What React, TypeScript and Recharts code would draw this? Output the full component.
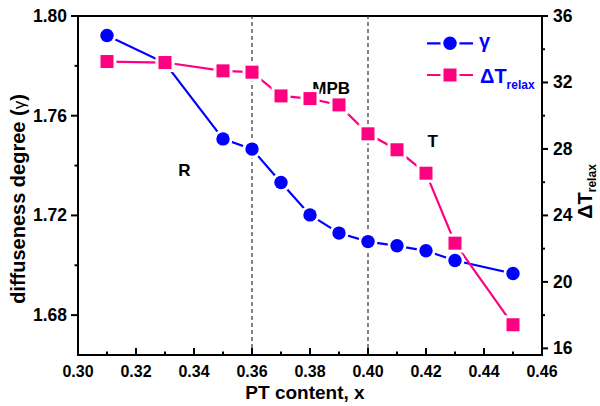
import React from 'react';
import { ComposedChart, Line, XAxis, YAxis, ReferenceLine, ReferenceDot } from 'recharts';

// ---- data ----
const xValues = [0.31, 0.33, 0.35, 0.36, 0.37, 0.38, 0.39, 0.40, 0.41, 0.42, 0.43, 0.45];
const gammaValues = [1.7922, 1.7811, 1.7507, 1.7466, 1.7332, 1.7202, 1.7129, 1.7095, 1.7078, 1.7058, 1.7019, 1.6967];
const dTRelaxValues = [33.26, 33.2, 32.7, 32.62, 31.19, 31.03, 30.65, 28.91, 27.95, 26.54, 22.33, 17.42];

const xMajorTicks = [0.30, 0.32, 0.34, 0.36, 0.38, 0.40, 0.42, 0.44, 0.46];
const xMinorTicks = [0.31, 0.33, 0.35, 0.37, 0.39, 0.41, 0.43, 0.45];
const leftMajorTicks = [1.68, 1.72, 1.76, 1.80];
const leftMinorTicks = [1.70, 1.74, 1.78];
const rightMajorTicks = [16, 20, 24, 28, 32, 36];
const rightMinorTicks = [18, 22, 26, 30, 34];

const phaseBoundaries = [0.36, 0.40];
const phaseLabels = [
  { text: 'R', x: 0.3367, y: 1.7383 },
  { text: 'MPB', x: 0.3873, y: 1.7713 },
  { text: 'T', x: 0.4223, y: 1.7499 },
];

const chartData = xValues.map((x, i) => ({ x, gamma: gammaValues[i], dT: dTRelaxValues[i] }));

const FONT = '"Liberation Sans", Arial, Helvetica, sans-serif';
const BLUE = '#0000FF';
const PINK = '#FF0080';

const isMajor = (v: number, majors: number[]) => majors.some((m) => Math.abs(m - v) < 1e-9);
const sortNum = (a: number[]) => [...a].sort((p, q) => p - q);

const XTick = (props: any) => {
  const { x, y, payload } = props;
  const v = payload.value as number;
  const major = isMajor(v, xMajorTicks);
  return (
    <g>
      <line x1={x} x2={x} y1={y} y2={y - (major ? 7 : 3.5)} stroke="#000" strokeWidth={2} />
      {major && (
        <text x={x} y={y + 22} textAnchor="middle" fontSize={16} fontWeight="bold" fontFamily={FONT} fill="#000">
          {v.toFixed(2)}
        </text>
      )}
    </g>
  );
};

const LeftTick = (props: any) => {
  const { x, y, payload } = props;
  const v = payload.value as number;
  const major = isMajor(v, leftMajorTicks);
  return (
    <g>
      <line x1={x - (major ? 7 : 3.5)} x2={x} y1={y} y2={y} stroke="#000" strokeWidth={2} />
      {major && (
        <text x={x - 11} y={y + 6} textAnchor="end" fontSize={17.5} fontWeight="bold" fontFamily={FONT} fill="#000">
          {v.toFixed(2)}
        </text>
      )}
    </g>
  );
};

const RightTick = (props: any) => {
  const { x, y, payload } = props;
  const v = payload.value as number;
  const major = isMajor(v, rightMajorTicks);
  return (
    <g>
      <line x1={x} x2={x + (major ? 6 : 3)} y1={y} y2={y} stroke="#000" strokeWidth={2} />
      {major && (
        <text x={x + 11} y={y + 6} textAnchor="start" fontSize={17.5} fontWeight="bold" fontFamily={FONT} fill="#000">
          {String(v)}
        </text>
      )}
    </g>
  );
};

const CircleDot = (props: any) => {
  const { cx, cy, index } = props;
  if (cx == null || cy == null) return <g key={`c-${index}`} />;
  return (
    <g key={`c-${index}`}>
      <circle cx={cx} cy={cy} r={9.5} fill="#fff" />
      <circle cx={cx} cy={cy} r={6.7} fill={BLUE} />
    </g>
  );
};

const SquareDot = (props: any) => {
  const { cx, cy, index } = props;
  if (cx == null || cy == null) return <g key={`s-${index}`} />;
  return (
    <g key={`s-${index}`}>
      <rect x={cx - 9.5} y={cy - 9.5} width={19} height={19} fill="#fff" />
      <rect x={cx - 6.5} y={cy - 6.5} width={13} height={13} fill={PINK} />
    </g>
  );
};

const PhaseLabel = (props: any) => {
  const vb = props.viewBox || {};
  const cx = (vb.x ?? 0) + (vb.width ?? 0) / 2;
  const cy = (vb.y ?? 0) + (vb.height ?? 0) / 2;
  return (
    <text x={cx} y={cy + 6} textAnchor="middle" fontSize={17} fontWeight="bold" fontFamily={FONT} fill="#000">
      {props.value}
    </text>
  );
};

const XLabel = (props: any) => {
  const vb = props.viewBox;
  return (
    <text x={vb.x + vb.width / 2 - 5} y={vb.y + 44} textAnchor="middle" fontSize={19} fontWeight="bold" fontFamily={FONT} fill="#000">
      PT content, x
    </text>
  );
};

const LeftLabel = (props: any) => {
  const vb = props.viewBox;
  const cx = vb.x + 25;
  const cy = vb.y + vb.height / 2 + 13.5;
  return (
    <text x={cx} y={cy} transform={`rotate(-90, ${cx}, ${cy})`} textAnchor="middle" fontSize={20} fontWeight="bold" fontFamily={FONT} fill="#000">
      diffuseness degree (<tspan fontWeight="normal" fontSize={17}>γ</tspan>)
    </text>
  );
};

const RightLabel = (props: any) => {
  const vb = props.viewBox;
  const cx = vb.x + 50;
  const cy = vb.y + vb.height / 2 + 6;
  return (
    <text x={cx} y={cy} transform={`rotate(-90, ${cx}, ${cy})`} textAnchor="middle" fontSize={20} fontWeight="bold" fontFamily={FONT} fill="#000">
      ΔT<tspan fontSize={12} dy={4}>relax</tspan>
    </text>
  );
};

const Legend = () => (
  <svg width={600} height={406} style={{ position: 'absolute', left: 0, top: 0, pointerEvents: 'none' }}>
    <line x1={427} x2={473} y1={43.3} y2={43.3} stroke={BLUE} strokeWidth={2.2} />
    <circle cx={450} cy={43.3} r={9.5} fill="#fff" />
    <circle cx={450} cy={43.3} r={6.7} fill={BLUE} />
    <text x={479} y={48} fontSize={20} fontWeight="bold" fontFamily={FONT} fill={BLUE}>γ</text>
    <line x1={427} x2={473} y1={75} y2={75} stroke={PINK} strokeWidth={2.2} />
    <rect x={440.5} y={65.5} width={19} height={19} fill="#fff" />
    <rect x={443.5} y={68.5} width={13} height={13} fill={PINK} />
    <text x={480} y={82.7} fontSize={20} fontWeight="bold" fontFamily={FONT} fill={BLUE}>
      ΔT<tspan fontSize={12} dy={6}>relax</tspan>
    </text>
  </svg>
);

export default function App() {
  return (
    <div style={{ position: 'absolute', left: 0, top: 0, width: 600, height: 406, background: '#fff' }}>
      <ComposedChart width={600} height={406} data={chartData} margin={{ top: 16, right: 0, bottom: 0, left: 0 }}>
        <XAxis
          dataKey="x"
          type="number"
          domain={[0.30, 0.46]}
          ticks={sortNum([...xMajorTicks, ...xMinorTicks])}
          interval={0}
          tick={<XTick />}
          tickLine={false}
          tickSize={0}
          tickMargin={0}
          height={51}
          axisLine={{ stroke: '#000', strokeWidth: 2, strokeLinecap: 'square' }}
          allowDataOverflow
          label={<XLabel />}
        />
        <YAxis
          yAxisId="left"
          type="number"
          domain={[1.664, 1.80]}
          ticks={sortNum([...leftMajorTicks, ...leftMinorTicks])}
          interval={0}
          tick={<LeftTick />}
          tickLine={false}
          tickSize={0}
          tickMargin={0}
          width={78}
          axisLine={{ stroke: '#000', strokeWidth: 2, strokeLinecap: 'square' }}
          allowDataOverflow
          label={<LeftLabel />}
        />
        <YAxis
          yAxisId="right"
          orientation="right"
          type="number"
          domain={[15.6, 36]}
          ticks={sortNum([...rightMajorTicks, ...rightMinorTicks])}
          interval={0}
          tick={<RightTick />}
          tickLine={false}
          tickSize={0}
          tickMargin={0}
          width={58}
          axisLine={{ stroke: '#000', strokeWidth: 2, strokeLinecap: 'square' }}
          allowDataOverflow
          label={<RightLabel />}
        />
        <ReferenceLine yAxisId="left" y={1.80} stroke="#000" strokeWidth={2} />
        {phaseBoundaries.map((b) => (
          <ReferenceLine key={`b-${b}`} yAxisId="left" x={b} stroke="#333" strokeWidth={1.2} strokeDasharray="4 3" />
        ))}
        {phaseLabels.map((p) => (
          <ReferenceDot
            key={`p-${p.text}`}
            yAxisId="left"
            x={p.x}
            y={p.y}
            r={0}
            fill="none"
            stroke="none"
            label={<PhaseLabel value={p.text} />}
          />
        ))}
        <Line
          yAxisId="left"
          dataKey="gamma"
          stroke={BLUE}
          strokeWidth={2.2}
          dot={(p: any) => <CircleDot key={`cd-${p.index}`} {...p} />}
          activeDot={false}
          isAnimationActive={false}
        />
        <Line
          yAxisId="right"
          dataKey="dT"
          stroke={PINK}
          strokeWidth={2.2}
          dot={(p: any) => <SquareDot key={`sd-${p.index}`} {...p} />}
          activeDot={false}
          isAnimationActive={false}
        />
      </ComposedChart>
      <Legend />
    </div>
  );
}
